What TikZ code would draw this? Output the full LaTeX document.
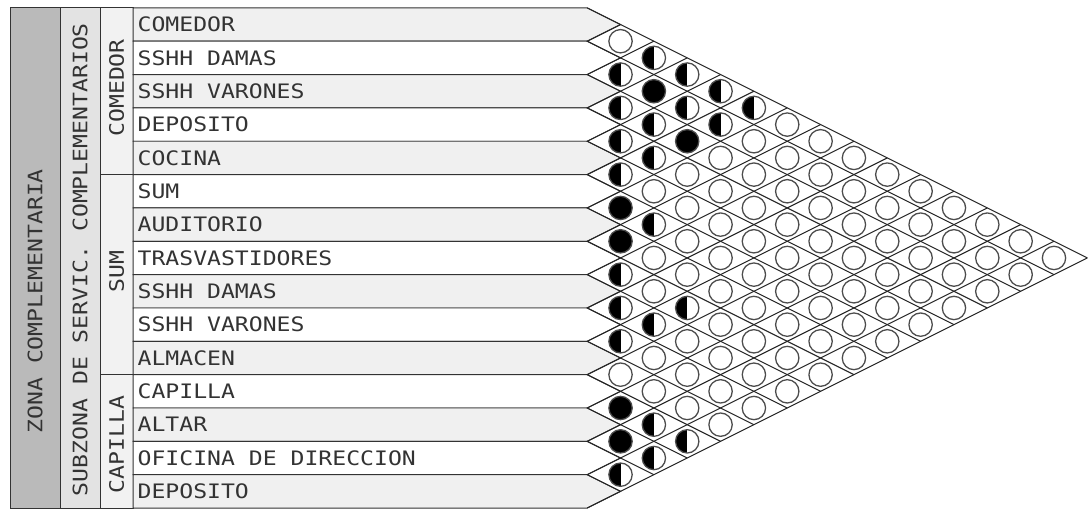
\documentclass[tikz,border=0pt]{standalone}
\usepackage{fontspec}
\newfontfamily\cadfont[FakeStretch=1.16]{DejaVu Sans Mono}
\begin{document}
\begin{tikzpicture}[
    fila/.style={draw=black!80, line width=0.8pt},
    rejilla/.style={draw=black!85, line width=0.9pt},
    etiq/.style={font=\cadfont\fontsize{17}{18}\selectfont, text=black!80, inner sep=0pt},
    rb/.style={circle, draw=black!70, line width=1.1pt, fill=white, minimum size=0.7cm, inner sep=0pt},
    rn/.style={rb, fill=black},
    rm/.style={rb, path picture={\fill[black] (path picture bounding box.south west) rectangle (path picture bounding box.north);}}]
    \def\xl{13.62}
    \useasboundingbox (-3.99,0.236) rectangle (28.64,-15.03);
    % 分区
    \filldraw[fila, fill=black!27] (-3.69,0) rectangle (-2.19,-15);
    \filldraw[fila, fill=black!11] (-2.19,0) rectangle (-0.99,-15);
    \filldraw[fila, fill=black!5] (-0.99,0) rectangle (0,-15);
    \draw[fila] (-0.99,-5) -- (0,-5);
    \draw[fila] (-0.99,-11) -- (0,-11);
    \node[etiq, rotate=90] (zona) at (-2.94,-8.8) {ZONA COMPLEMENTARIA};
    \node[etiq, rotate=90] (subzona) at (-1.59,-7.55) {SUBZONA DE SERVIC. COMPLEMENTARIOS};
    \node[etiq, rotate=90] (comedor) at (-0.495,-2.4) {COMEDOR};
    \node[etiq, rotate=90] (sum) at (-0.495,-7.9) {SUM};
    \node[etiq, rotate=90] (capilla) at (-0.495,-13.1) {CAPILLA};
    % 房间
    \foreach \nom [count=\k from 0] in {COMEDOR, SSHH DAMAS, SSHH VARONES, DEPOSITO, COCINA, SUM, AUDITORIO, TRASVASTIDORES, SSHH DAMAS, SSHH VARONES, ALMACEN, CAPILLA, ALTAR, OFICINA DE DIRECCION, DEPOSITO} {
        \ifodd\k \def\relleno{white}\else\def\relleno{black!6}\fi
        \filldraw[fila, fill=\relleno] (0,-\k) -- (\xl,-\k) -- (\xl+1,-\k-0.5) -- (\xl,-\k-1) -- (0,-\k-1) -- cycle;
        \node[etiq, anchor=west] (r\k) at (0.13,-\k-0.5) {\nom};
    }
    % 网格
    \foreach \k in {0,...,15} {
        \coordinate (b\k) at (\xl,-\k);
        \coordinate (s\k) at (\xl+\k,-\k/2);
        \coordinate (i\k) at (\xl+15-\k,-7.5-\k/2);
        \draw[rejilla] (s\k) -- (b\k) -- (i\k);
    }
    % 关系
    \foreach \i/\lista in {0/{b,m,m,m,m,b,b,b,b,b,b,b,b,b}, 1/{m,n,m,m,b,b,b,b,b,b,b,b,b}, 2/{m,m,n,b,b,b,b,b,b,b,b,b}, 3/{m,m,b,b,b,b,b,b,b,b,b}, 4/{m,b,b,b,b,b,b,b,b,b}, 5/{n,m,b,b,b,b,b,b,b}, 6/{n,b,b,b,b,b,b,b}, 7/{m,b,m,b,b,b,b}, 8/{m,m,b,b,b,b}, 9/{m,b,b,b,b}, 10/{b,b,b,b}, 11/{n,m,m}, 12/{n,m}, 13/{m}} {
        \pgfmathtruncatemacro{\ini}{\i+1}
        \foreach \tipo [count=\j from \ini] in \lista {
            \node[r\tipo] (c\i-\j) at (\xl+\j-\i,{-(\i+\j+1)/2}) {};
        }
    }
\end{tikzpicture}
\end{document}
